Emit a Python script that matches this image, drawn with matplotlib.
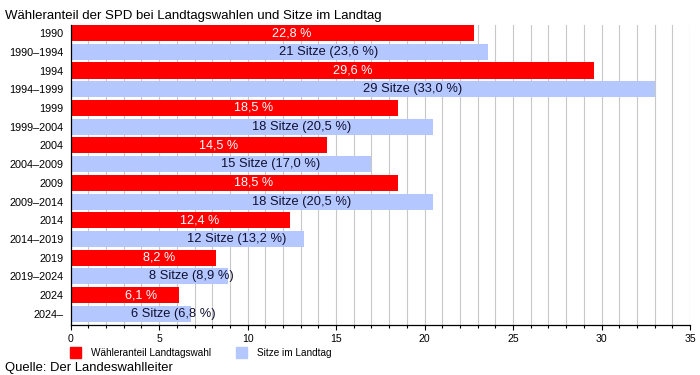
import numpy as np
import matplotlib.pyplot as plt
from matplotlib.patches import Patch
from matplotlib.ticker import MultipleLocator

plt.rcParams['font.family'] = ['Liberation Sans', 'DejaVu Sans']

# Landtagswahlen und Sitze der SPD
wahljahre = ['1990', '1994', '1999', '2004', '2009', '2014', '2019', '2024']
perioden = ['1990–1994', '1994–1999', '1999–2004', '2004–2009',
            '2009–2014', '2014–2019', '2019–2024', '2024–']
stimmen = [22.8, 29.6, 18.5, 14.5, 18.5, 12.4, 8.2, 6.1]
sitze = [21, 29, 18, 15, 18, 12, 8, 6]
sitzanteil = [23.6, 33.0, 20.5, 17.0, 20.5, 13.2, 8.9, 6.8]

rot = '#ff0000'
blau = '#b4c7ff'

fig = plt.figure(figsize=(7, 3.75), dpi=100)
ax = fig.add_axes([0.101, 0.133, 0.8847, 0.8003])

labels = []
for i in range(len(wahljahre)):
    labels += [wahljahre[i], perioden[i]]

y_rot = np.arange(len(wahljahre)) * 2
y_blau = y_rot + 1
h = 0.86

ax.barh(y_rot, stimmen, height=h, color=rot, zorder=2)
ax.barh(y_blau, sitzanteil, height=h, color=blau, zorder=2)

for y, v in zip(y_rot, stimmen):
    ax.text(v / 2, y, f'{v:.1f} %'.replace('.', ','), color='white',
            ha='left', va='center', fontsize=9.1, zorder=3)
for y, s, v in zip(y_blau, sitze, sitzanteil):
    ax.text(v / 2, y, f'{s} Sitze ({v:.1f} %)'.replace('.', ','),
            color='#101030', ha='left', va='center', fontsize=9.3, zorder=3)

ax.set_xlim(0, 35)
ax.set_ylim(len(labels) - 1 + h / 2 + 0.17, -h / 2)
ax.set_yticks(np.arange(len(labels)))
ax.set_yticklabels(labels, fontsize=7.8)
ax.tick_params(axis='y', length=0, pad=5)

ax.xaxis.set_major_locator(MultipleLocator(5))
ax.xaxis.set_minor_locator(MultipleLocator(1))
ax.tick_params(axis='x', which='major', length=3.3, width=0.8, labelsize=7.6, pad=3)
ax.tick_params(axis='x', which='minor', length=2, width=0.8)
ax.grid(axis='x', which='both', color='#c8c8c8', linewidth=0.8, zorder=0)
ax.set_axisbelow(True)

for s in ['top', 'right']:
    ax.spines[s].set_visible(False)
ax.spines['left'].set_linewidth(0.9)
ax.spines['bottom'].set_linewidth(0.9)

fig.text(0.007, 0.949, 'Wähleranteil der SPD bei Landtagswahlen und Sitze im Landtag',
         fontsize=9.5, ha='left', va='baseline')
fig.text(0.007, 0.01, 'Quelle: Der Landeswahlleiter', fontsize=9.4,
         ha='left', va='baseline')

handles = [Patch(color=rot, label='Wähleranteil Landtagswahl'),
           Patch(color=blau, label='Sitze im Landtag')]
fig.legend(handles=handles, loc='upper left', bbox_to_anchor=(0.1, 0.074),
           ncol=2, frameon=False, fontsize=7.2, handlelength=1.1,
           handleheight=1.3, handletextpad=1.0, columnspacing=2.5,
           borderaxespad=0, borderpad=0)

fig.savefig('out.png', dpi=100)
